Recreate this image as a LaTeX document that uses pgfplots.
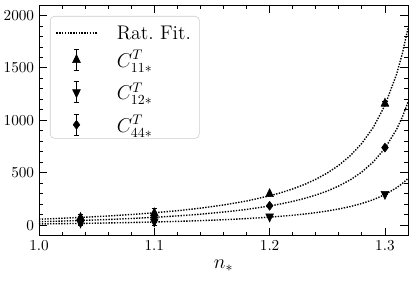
\documentclass[border=0pt]{standalone}
\usepackage{pgfplots}
\pgfplotsset{compat=1.18}
\begin{document}
\begin{tikzpicture}
\begin{axis}[
  scale only axis, width=265.7pt, height=166.1pt,
  xmin=1.0, xmax=1.32, ymin=-100, ymax=2100,
  xtick={1.0,1.1,1.2,1.3}, ytick={0,500,1000,1500,2000},
  minor x tick num=4, minor y tick num=4,
  tick align=inside, xtick pos=both, ytick pos=both,
  major tick length=5.5pt, minor tick length=3pt,
  tick style={black, line width=0.6pt},
  axis line style={line width=0.6pt},
  xticklabel style={/pgf/number format/.cd, fixed, fixed zerofill, precision=1},
  yticklabel style={/pgf/number format/1000 sep={}},
  ticklabel style={font=\fontsize{10.8}{12}\selectfont},
  xlabel={$n_*$}, xlabel style={font=\fontsize{14}{16}\selectfont},
  legend cell align=left,
  legend style={at={(axis description cs:0,1)}, anchor=north west,
    xshift=7.9pt, yshift=-7.9pt, draw=black!20, rounded corners=3pt, fill=white,
    font=\fontsize{14.2}{16}\selectfont, inner xsep=4pt, inner ysep=1pt,
    column sep=11.5pt, row sep=5.8pt},
]
\addlegendimage{legend image code/.code={\path[draw=none] (0pt,-0.5pt) -- (0pt,11pt);
  \draw[black, densely dotted, line width=1pt] (0pt,0pt) -- (29.5pt,0pt);}}
\addlegendentry[inner ysep=0pt, text depth=0pt]{Rat.\ Fit.}
\addlegendimage{legend image code/.code={\path[draw=none] (0pt,0pt) -- (29.5pt,0pt);
  \draw[black, line width=0.7pt] (14.4pt,-7.5pt) -- (14.4pt,7.5pt) (12.4pt,-7.5pt) -- (16.4pt,-7.5pt) (12.4pt,7.5pt) -- (16.4pt,7.5pt);
  \draw[black, fill=black] plot[mark=triangle*, mark size=3.2pt, mark options={yscale=1.2}] coordinates {(14.4pt,0pt)};}}
\addlegendentry{$C^{T}_{11*}$}
\addlegendimage{legend image code/.code={\path[draw=none] (0pt,0pt) -- (29.5pt,0pt);
  \draw[black, line width=0.7pt] (14.4pt,-7.5pt) -- (14.4pt,7.5pt) (12.4pt,-7.5pt) -- (16.4pt,-7.5pt) (12.4pt,7.5pt) -- (16.4pt,7.5pt);
  \draw[black, fill=black] plot[mark=triangle*, mark size=3.2pt, mark options={rotate=180, yscale=1.2}] coordinates {(14.4pt,0pt)};}}
\addlegendentry{$C^{T}_{12*}$}
\addlegendimage{legend image code/.code={\path[draw=none] (0pt,0pt) -- (29.5pt,0pt);
  \draw[black, line width=0.7pt] (14.4pt,-7.5pt) -- (14.4pt,7.5pt) (12.4pt,-7.5pt) -- (16.4pt,-7.5pt) (12.4pt,7.5pt) -- (16.4pt,7.5pt);
  \draw[black, fill=black] plot[mark=diamond*, mark size=3.2pt] coordinates {(14.4pt,0pt)};}}
\addlegendentry{$C^{T}_{44*}$}

% rational fits
\addplot[forget plot, black, densely dotted, line width=1pt, no marks] coordinates {
(1.00,57.0)(1.02,65.8)(1.04,76.0)(1.06,87.9)(1.08,101.9)(1.10,118.4)(1.12,138.2)
(1.14,162.5)(1.16,192.6)(1.18,230.5)(1.20,280.0)(1.21,310.4)(1.22,345.9)(1.23,387.6)
(1.24,437.3)(1.25,497.6)(1.26,571.2)(1.27,663.4)(1.28,780.8)(1.29,934.7)(1.30,1142.9)
(1.31,1437.2)(1.315,1633)(1.32,1876)};
\addplot[forget plot, black, densely dotted, line width=1pt, no marks] coordinates {
(1.00,33.2)(1.02,39.3)(1.04,46.2)(1.06,54.3)(1.08,63.8)(1.10,75.1)(1.12,88.5)
(1.14,104.8)(1.16,125.0)(1.18,150.5)(1.20,183.3)(1.21,203.4)(1.22,227.0)(1.23,254.4)
(1.24,287.0)(1.25,326.0)(1.26,373.8)(1.27,432.8)(1.28,507.5)(1.29,604.2)(1.30,733.3)
(1.31,912.4)(1.315,1029.4)(1.32,1173.3)};
\addplot[forget plot, black, densely dotted, line width=1pt, no marks] coordinates {
(1.00,12.0)(1.02,14.7)(1.04,17.7)(1.06,21.3)(1.08,25.5)(1.10,30.4)(1.12,36.3)
(1.14,43.3)(1.16,52.0)(1.18,62.9)(1.20,76.8)(1.21,85.2)(1.22,94.9)(1.23,106.3)
(1.24,119.6)(1.25,135.4)(1.26,154.5)(1.27,177.8)(1.28,206.8)(1.29,243.6)(1.30,291.9)
(1.31,356.1)(1.315,397.0)(1.32,445.7)};

% data with error bars
\addplot[forget plot, only marks, black, mark=triangle*, mark size=3.2pt, mark options={yscale=1.2},
  error bars/.cd, y dir=both, y explicit, error bar style={line width=0.7pt},
  error mark options={rotate=90, mark size=2pt, line width=0.7pt}]
  coordinates {(1.036,70) +- (0,35) (1.1,115) +- (0,45) (1.2,297) +- (0,8) (1.3,1160) +- (0,15)};
\addplot[forget plot, only marks, black, mark=triangle*, mark size=3.2pt, mark options={rotate=180, yscale=1.2},
  error bars/.cd, y dir=both, y explicit, error bar style={line width=0.7pt},
  error mark options={rotate=90, mark size=2pt, line width=0.7pt}]
  coordinates {(1.036,25) +- (0,30) (1.1,35) +- (0,35) (1.2,82) +- (0,6) (1.3,297) +- (0,8)};
\addplot[forget plot, only marks, black, mark=diamond*, mark size=3.2pt,
  error bars/.cd, y dir=both, y explicit, error bar style={line width=0.7pt},
  error mark options={rotate=90, mark size=2pt, line width=0.7pt}]
  coordinates {(1.036,45) +- (0,35) (1.1,75) +- (0,40) (1.2,185) +- (0,8) (1.3,740) +- (0,12)};
\end{axis}
\pgfresetboundingbox
\useasboundingbox ([shift={(-28.08pt,-32.4pt)}]current axis.south west) rectangle ([shift={(5.04pt,3.6pt)}]current axis.north east);
\end{tikzpicture}
\end{document}
